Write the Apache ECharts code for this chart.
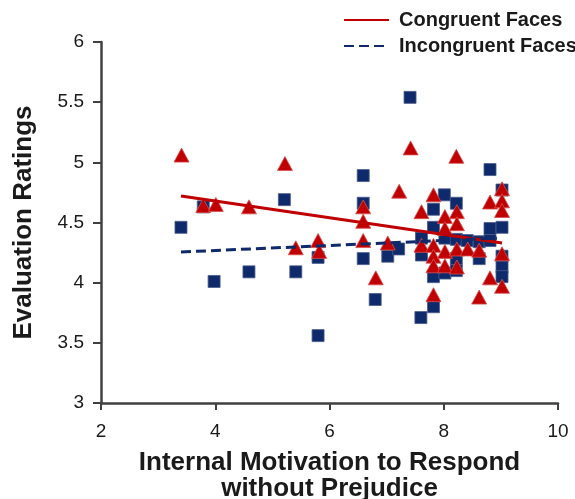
<!DOCTYPE html>
<html>
<head>
<meta charset="utf-8">
<script src="https://cdn.jsdelivr.net/npm/echarts@6/dist/echarts.min.js"></script>
<style>html,body{margin:0;padding:0;background:#fff}#c{width:575px;height:499px}</style>
</head>
<body>
<div id="c"></div>
<script>
// Data
const xTicks = [2, 4, 6, 8, 10];
const yTicks = [3, 3.5, 4, 4.5, 5, 5.5, 6];

const incongruentPoints = [
  [3.40,4.46],[3.79,4.63],[3.98,4.01],[4.59,4.09],[5.21,4.69],[5.41,4.09],
  [5.80,4.21],[5.80,3.56],[6.59,4.89],[6.59,4.66],[6.59,4.20],[6.80,3.86],
  [7.02,4.22],[7.21,4.28],[7.41,5.54],[7.61,4.37],[7.61,4.23],[7.60,3.71],
  [7.82,4.61],[7.82,4.46],[7.82,4.05],[7.82,3.80],[8.01,4.73],[8.02,4.37],
  [8.02,4.08],[8.22,4.66],[8.22,4.36],[8.22,4.20],[8.22,4.10],[8.41,4.35],
  [8.62,4.34],[8.62,4.20],[8.81,4.94],[8.81,4.45],[8.81,4.35],[9.02,4.77],
  [9.02,4.46],[9.02,4.22],[9.02,4.13],[9.02,4.05]
];

const congruentPoints = [
  [3.41,5.06],[3.79,4.64],[4.01,4.65],[4.59,4.63],[5.22,4.99],[5.41,4.29],
  [5.80,4.35],[5.82,4.26],[6.59,4.63],[6.59,4.51],[6.59,4.35],[6.81,4.04],
  [7.02,4.33],[7.22,4.76],[7.42,5.12],[7.61,4.59],[7.61,4.31],[7.82,4.73],
  [7.82,4.31],[7.82,4.22],[7.82,4.14],[7.82,3.90],[8.02,4.55],[8.02,4.45],
  [8.02,4.26],[8.02,4.14],[8.22,5.05],[8.23,4.59],[8.23,4.49],[8.23,4.28],
  [8.23,4.13],[8.42,4.28],[8.62,4.27],[8.62,3.88],[8.81,4.67],[8.81,4.04],
  [9.02,4.78],[9.02,4.68],[9.02,4.60],[9.02,4.24],[9.02,3.97]
];

const congruentTrend = [[3.40,4.72],[9.02,4.33]];
const incongruentTrend = [[3.40,4.255],[8.93,4.37]];

const seriesNames = ['Congruent Faces', 'Incongruent Faces'];
const xTitle = 'Internal Motivation to Respond\nwithout Prejudice';
const yTitle = 'Evaluation Ratings';

const RED = '#C00000';
const NAVY = '#0E2A6B';
const AXIS = '#404040';
const FONT = 'Arial, "Liberation Sans", sans-serif';

const chart = echarts.init(document.getElementById('c'), null, {renderer: 'canvas'});
chart.setOption({
  animation: false,
  backgroundColor: '#fff',
  grid: {left: 101, right: 17, top: 42, bottom: 96, containLabel: false, outerBoundsMode: 'none'},
  legend: {
    orient: 'vertical',
    left: 343,
    top: 10,
    padding: 0,
    itemWidth: 45,
    itemHeight: 16,
    itemGap: 6,
    data: seriesNames,
    itemStyle: {opacity: 0},
    textStyle: {fontFamily: FONT, fontSize: 20, fontWeight: 'bold', color: '#1a1a1a', padding: [0, 0, 0, 5]}
  },
  xAxis: {
    type: 'value', min: xTicks[0], max: xTicks[xTicks.length-1], interval: 2,
    name: xTitle, nameLocation: 'middle', nameGap: 47,
    nameTextStyle: {fontFamily: FONT, fontSize: 26, fontWeight: 'bold', color: '#1a1a1a', lineHeight: 26},
    axisLine: {show: true, lineStyle: {color: AXIS, width: 2.5}},
    axisTick: {show: true, inside: false, length: 7, lineStyle: {color: AXIS, width: 2}},
    axisLabel: {fontFamily: FONT, fontSize: 19, color: '#1a1a1a', margin: 19},
    splitLine: {show: false}
  },
  yAxis: {
    type: 'value', min: yTicks[0], max: yTicks[yTicks.length-1], interval: 0.5,
    name: yTitle, nameLocation: 'middle', nameGap: 64, nameRotate: 90,
    nameTextStyle: {fontFamily: FONT, fontSize: 26, fontWeight: 'bold', color: '#1a1a1a'},
    axisLine: {show: true, lineStyle: {color: AXIS, width: 2.5}},
    axisTick: {show: true, inside: false, length: 8, lineStyle: {color: AXIS, width: 2}},
    axisLabel: {fontFamily: FONT, fontSize: 19, color: '#1a1a1a', margin: 17},
    splitLine: {show: false}
  },
  series: [
    {
      name: 'incongruentScatter', type: 'scatter', data: incongruentPoints,
      symbol: 'rect', symbolSize: 12,
      itemStyle: {color: NAVY, borderColor: '#4a5a8a', borderWidth: 0.8, opacity: 1},
      z: 2
    },
    {
      name: 'congruentScatter', type: 'scatter', data: congruentPoints,
      symbol: 'triangle', symbolSize: [15, 14],
      itemStyle: {color: RED, borderColor: '#d85050', borderWidth: 0.8, opacity: 1},
      z: 3
    },
    {
      name: seriesNames[0], type: 'line', data: congruentTrend,
      symbol: 'none', showSymbol: false,
      lineStyle: {color: RED, width: 3, type: 'solid'},
      itemStyle: {color: RED},
      z: 4
    },
    {
      name: seriesNames[1], type: 'line', data: incongruentTrend,
      symbol: 'none', showSymbol: false,
      lineStyle: {color: NAVY, width: 3, type: [10, 5]},
      itemStyle: {color: NAVY},
      z: 4
    }
  ]
});
</script>
</body>
</html>
